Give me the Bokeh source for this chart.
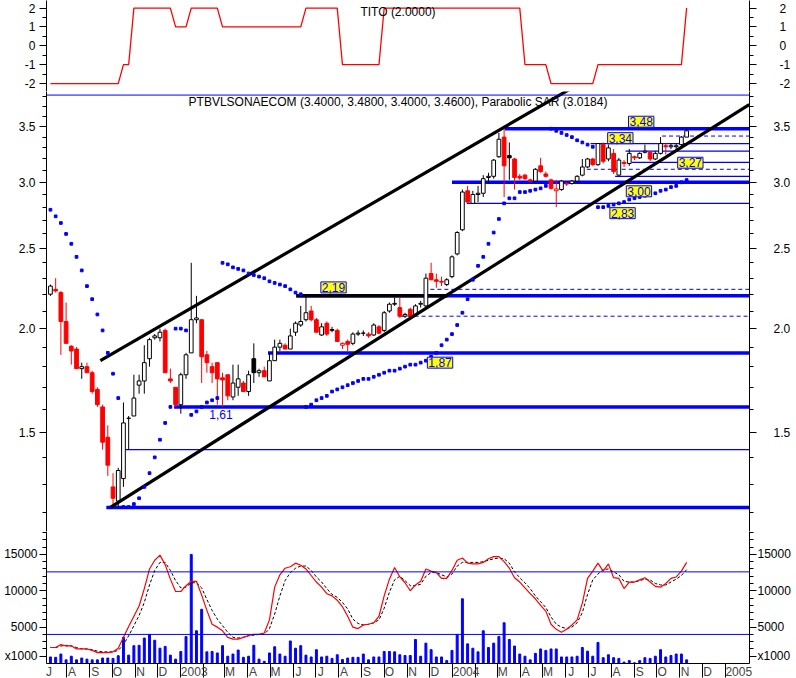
import numpy as np
import pandas as pd
from bokeh.plotting import figure
from bokeh.layouts import column
from bokeh.models import (Range1d, FixedTicker, LinearAxis, LogAxis, PrintfTickFormatter,
                          Span, Label, ColumnDataSource)
from bokeh.embed import file_html
from bokeh.resources import INLINE

FONT = "Liberation Sans"
BLUE = "#0000ff"
RED = "#ff0000"
YELLOW = "#ffff00"

# ---------------- data (weekly bars) ----------------
first_week = "2002-07-10"

opens = [
    2.20, 2.23, 2.21, 2.04, 1.905, 1.89, 1.79, 1.80, 1.77, 1.69,
    1.61, 1.48, 1.29, 1.24, 1.32, 1.56, 1.57, 1.71, 1.73, 1.84,
    1.95, 1.95, 1.99, 1.74, 1.70, 1.62, 1.76, 1.87, 2.05, 2.05,
    1.86, 1.80, 1.82, 1.745, 1.76, 1.655, 1.70, 1.72, 1.68, 1.84,
    1.77, 1.78, 1.73, 1.83, 1.90, 1.91, 1.89, 1.98, 2.02, 2.05,
    2.10, 2.05, 1.965, 2.03, 1.99, 1.99, 1.91, 1.93, 1.92, 1.97,
    1.975, 1.97, 1.965, 2.01, 1.99, 2.10, 2.14, 2.12, 2.07, 2.11,
    2.08, 2.14, 2.13, 2.33, 2.29, 2.28, 2.26, 2.31, 2.46, 2.63,
    2.93, 2.83, 2.90, 2.91, 3.04, 3.05, 3.22, 3.40, 3.23, 3.20,
    3.05, 3.06, 3.02, 3.01, 3.14, 3.07, 3.02, 2.93, 2.94, 2.99,
    2.99, 3.01, 3.06, 3.13, 3.20, 3.15, 3.33, 3.20, 3.25, 3.06,
    3.17, 3.16, 3.22, 3.21, 3.26, 3.26, 3.20, 3.25, 3.32, 3.31,
    3.31, 3.33, 3.40]

highs = [
    2.26, 2.30, 2.22, 2.15, 1.91, 1.90, 1.82, 1.82, 1.78, 1.70,
    1.62, 1.53, 1.34, 1.36, 1.63, 1.57, 1.76, 1.76, 1.91, 1.95,
    1.97, 2.00, 2.00, 1.79, 1.70, 1.77, 1.87, 2.40, 2.19, 2.05,
    1.88, 1.82, 1.82, 1.77, 1.76, 1.81, 1.81, 1.73, 1.78, 1.92,
    1.79, 1.80, 1.87, 1.94, 1.94, 1.92, 2.00, 2.04, 2.13, 2.19,
    2.13, 2.06, 2.03, 2.04, 2.01, 2.00, 1.925, 1.94, 1.98, 1.99,
    1.99, 1.98, 2.03, 2.02, 2.10, 2.15, 2.18, 2.18, 2.09, 2.12,
    2.14, 2.16, 2.33, 2.40, 2.33, 2.31, 2.30, 2.45, 2.62, 2.94,
    2.97, 2.93, 2.97, 3.06, 3.08, 3.20, 3.44, 3.48, 3.35, 3.21,
    3.07, 3.07, 3.03, 3.12, 3.21, 3.09, 3.03, 3.02, 3.02, 3.00,
    3.02, 3.06, 3.20, 3.21, 3.21, 3.34, 3.35, 3.33, 3.29, 3.21,
    3.19, 3.29, 3.23, 3.26, 3.33, 3.27, 3.27, 3.40, 3.34, 3.34,
    3.34, 3.41, 3.48]

lows = [
    2.19, 2.21, 1.86, 1.92, 1.81, 1.79, 1.74, 1.77, 1.67, 1.61,
    1.43, 1.33, 1.23, 1.22, 1.29, 1.43, 1.57, 1.67, 1.67, 1.80,
    1.94, 1.93, 1.77, 1.72, 1.61, 1.58, 1.74, 1.87, 2.03, 1.72,
    1.77, 1.72, 1.62, 1.61, 1.64, 1.64, 1.66, 1.68, 1.66, 1.72,
    1.75, 1.75, 1.73, 1.83, 1.88, 1.89, 1.89, 1.96, 2.01, 2.04,
    2.04, 1.98, 1.96, 1.96, 1.98, 1.93, 1.89, 1.88, 1.91, 1.96,
    1.96, 1.95, 1.96, 1.97, 1.98, 2.09, 2.13, 2.06, 2.06, 2.06,
    2.07, 2.12, 2.11, 2.29, 2.24, 2.25, 2.25, 2.30, 2.45, 2.62,
    2.83, 2.83, 2.84, 2.88, 2.99, 3.03, 3.21, 2.88, 3.02, 2.94,
    3.02, 3.02, 3.00, 3.00, 3.08, 3.04, 2.94, 2.80, 2.93, 2.97,
    2.98, 3.00, 3.05, 3.12, 3.14, 3.14, 3.16, 3.18, 3.07, 3.05,
    3.13, 3.14, 3.19, 3.20, 3.25, 3.18, 3.19, 3.24, 3.24, 3.29,
    3.29, 3.30, 3.40]

closes = [
    2.25, 2.22, 2.04, 1.92, 1.88, 1.79, 1.80, 1.77, 1.68, 1.62,
    1.46, 1.37, 1.25, 1.35, 1.54, 1.56, 1.65, 1.73, 1.82, 1.94,
    1.96, 1.98, 1.77, 1.73, 1.62, 1.76, 1.86, 2.05, 2.06, 1.85,
    1.82, 1.77, 1.74, 1.735, 1.66, 1.72, 1.74, 1.68, 1.76, 1.77,
    1.78, 1.75, 1.83, 1.90, 1.92, 1.89, 1.96, 2.03, 2.04, 2.09,
    2.05, 1.98, 2.01, 1.97, 1.995, 1.93, 1.92, 1.915, 1.97, 1.975,
    1.975, 1.96, 2.02, 1.975, 2.09, 2.14, 2.145, 2.07, 2.08, 2.07,
    2.13, 2.145, 2.30, 2.29, 2.28, 2.275, 2.29, 2.44, 2.61, 2.92,
    2.84, 2.90, 2.91, 3.03, 3.05, 3.19, 3.38, 3.14, 3.21, 3.04,
    3.035, 3.03, 3.01, 3.11, 3.09, 3.05, 2.95, 2.945, 3.01, 2.985,
    3.01, 3.05, 3.13, 3.20, 3.15, 3.34, 3.18, 3.30, 3.09, 3.19,
    3.16, 3.25, 3.21, 3.25, 3.27, 3.20, 3.25, 3.34, 3.31, 3.32,
    3.32, 3.40, 3.46]

parabolic_sar = [
    2.78, 2.73, 2.68, 2.60, 2.53, 2.44, 2.35, 2.25, 2.17, 2.08,
    1.99, 1.87, 1.765, 1.65, 1.22, 1.22, 1.23, 1.25, 1.29, 1.34,
    1.40, 1.47, 1.54, 1.61, 2.00, 2.00, 1.99, 1.575, 1.59, 1.61,
    1.63, 1.64, 1.65, 2.40, 2.39, 2.37, 2.36, 2.35, 2.33, 2.32,
    2.31, 2.30, 2.28, 2.27, 2.26, 2.25, 2.23, 2.21, 2.20, 1.61,
    1.62, 1.64, 1.65, 1.66, 1.68, 1.69, 1.70, 1.71, 1.72, 1.73,
    1.74, 1.74, 1.75, 1.76, 1.77, 1.78, 1.78, 1.79, 1.80, 1.81,
    1.81, 1.82, 1.83, 1.85, 1.87, 1.91, 1.94, 1.97, 2.02, 2.09,
    2.17, 2.29, 2.38, 2.44, 2.53, 2.61, 2.71, 2.83, 2.87, 2.87,
    2.92, 2.92, 2.93, 2.94, 2.95, 2.97, 3.48, 3.46, 3.44, 3.42,
    3.40, 3.37, 3.35, 3.33, 3.31, 2.80, 2.80, 2.81, 2.82, 2.83,
    2.84, 2.86, 2.87, 2.88, 2.89, 2.90, 2.91, 2.93, 2.94, 2.96,
    2.97, 3.00, 3.0184]

tito = [
    -2, -2, -2, -2, -2, -2, -2, -2, -2, -2,
    -2, -2, -2, -2, -1, -1, 2, 2, 2, 2,
    2, 2, 2, 2, 1, 1, 1, 2, 2, 2,
    2, 2, 2, 1, 1, 1, 1, 1, 1, 1,
    1, 1, 1, 1, 1, 1, 1, 1, 1, 2,
    2, 2, 2, 2, 2, 2, -1, -1, -1, -1,
    -1, -1, -1, -1, 2, 2, 2, 2, 2, 2,
    2, 2, 2, 2, 2, 2, 2, 2, 2, 2,
    2, 2, 2, 2, 2, 2, 2, 2, 2, 2,
    2, -1, -1, -1, -1, -1, -2, -2, -2, -2,
    -2, -2, -2, -2, -2, -1, -1, -1, -1, -1,
    -1, -1, -1, -1, -1, -1, -1, -1, -1, -1,
    -1, -1, 2]

volume = [  # x1000
    900, 850, 1300, 500, 1000, 500, 750, 600, 500, 500,
    750, 750, 700, 1070, 3600, 1150, 2450, 2500, 3500, 4000,
    3200, 2100, 2350, 1150, 600, 1650, 3700, 15000, 4500, 7450,
    1600, 1650, 1450, 2450, 1000, 1300, 1850, 850, 1000, 2500,
    600, 300, 1450, 2300, 1300, 1000, 3100, 2100, 2450, 1150,
    900, 1900, 900, 1000, 700, 1200, 550, 750, 850, 850,
    1300, 500, 900, 900, 1650, 1650, 1600, 1200, 1100, 1100,
    3300, 1000, 2800, 1900, 900, 900, 400, 1800, 4000, 8900,
    2700, 2100, 1600, 4500, 2200, 2800, 3700, 5600, 3300, 2400,
    1300, 1000, 500, 1400, 2000, 1800, 2000, 2000, 900, 900,
    900, 1000, 2200, 1700, 1000, 2900, 800, 1200, 800, 700,
    200, 400, 100, 400, 800, 700, 1000, 1900, 900, 1100,
    1300, 1300, 500]

volume_osc = [
    2200, 2200, 2600, 2400, 2450, 2000, 2000, 2000, 1800, 1500,
    1500, 1500, 1600, 2100, 3600, 5100, 6500, 7900, 10300, 13000,
    14200, 14900, 13600, 11600, 9900, 9900, 10700, 11300, 11300, 9400,
    7300, 5400, 5000, 4500, 3600, 3350, 3350, 3600, 3850, 4000,
    4000, 4200, 6000, 10500, 12200, 13100, 13300, 13800, 13500, 13000,
    12100, 11200, 10500, 9600, 9300, 8700, 7800, 6500, 5000, 4800,
    5300, 5400, 5600, 6500, 9300, 11600, 13200, 11900, 11100, 10000,
    10800, 11300, 13000, 12700, 12500, 11700, 11700, 12800, 14200, 14500,
    13800, 13700, 13700, 13900, 14400, 14700, 14700, 14000, 13100, 11800,
    11200, 10400, 9600, 8900, 8000, 7200, 5400, 4700, 4300, 4700,
    5300, 6000, 8300, 11700, 12700, 13800, 12700, 13700, 11800, 11700,
    10300, 11200, 11200, 11500, 11800, 11200, 10600, 10500, 11000, 11700,
    11900, 12700, 13900]

volume_osc_signal = [
    2200, 2200, 2400, 2500, 2400, 2200, 2000, 2000, 1900, 1700,
    1600, 1600, 1600, 1800, 2600, 3800, 5200, 6600, 8400, 10800,
    12800, 13900, 13900, 12800, 11400, 10400, 10500, 11100, 11100, 10400,
    8800, 7300, 6100, 5200, 4300, 3600, 3500, 3600, 3800, 3900,
    4000, 4000, 4800, 6800, 9300, 11400, 12500, 13100, 13400, 13400,
    12800, 11900, 11200, 10300, 9500, 9100, 8400, 7500, 6100, 5500,
    5300, 5400, 5600, 6000, 7600, 9800, 11500, 12000, 11400, 10700,
    10700, 10900, 12000, 12500, 12500, 12200, 11900, 12300, 13400, 13900,
    13900, 13900, 13900, 14000, 14200, 14400, 14500, 14400, 13800, 12600,
    11800, 11100, 10300, 9300, 8500, 7700, 6400, 5400, 5000, 4800,
    5000, 5600, 7000, 9500, 11500, 12300, 12900, 13000, 12600, 12200,
    11300, 11200, 11200, 11400, 11600, 11500, 11000, 10800, 10800, 11200,
    11600, 12100, 12900]

# horizontal price levels: (price, first date, style)
level_price = [3.48, 3.41, 3.34, 3.27, 3.17, 3.11, 3.05, 3.00, 2.83, 2.23, 2.19, 2.07, 1.87, 1.61, 1.43, 1.218]
level_from = ["2004-03-11", "2004-10-08", "2004-07-04", "2004-08-20", "2004-08-28", "2004-06-29",
              "2004-08-06", "2003-12-31", "2004-01-20", "2003-12-02", "2003-06-05", "2003-10-23",
              "2003-04-28", "2002-12-23", "2002-10-15", "2002-09-23"]
level_style = ["thick", "dash", "thin", "thin", "thin", "dash", "thin", "thick", "thin", "dash",
               "thick", "dash", "thick", "thick", "thin", "thick"]
top_level = 3.82
resistance_2_19 = ("2003-06-05", "2003-12-25", 2.19)

# trend channel
trend_dates = [["2002-09-15", "2004-08-13"], ["2002-09-29", "2005-02-02"]]
trend_prices = [[1.83, 4.21], [1.22, 3.72]]

# value tags
tag_text = ["3,48", "3,34", "3,27", "3,00", "2,83", "2,19", "1,87", "1,61"]
tag_date = ["2004-09-10", "2004-08-13", "2004-11-15", "2004-09-07", "2004-08-16", "2003-07-25",
            "2003-12-15", "2003-02-24"]
tag_price = [3.548, 3.39, 3.167, 2.926, 2.754, 2.242, 1.82, 1.576]
tag_boxed = [True, True, True, True, True, True, True, False]

osc_levels = [12600, 4000]

price_ticks = [1.5, 2.0, 2.5, 3.0, 3.5]
price_minor = [1.2, 1.3, 1.4, 1.6, 1.7, 1.8, 1.9, 2.1, 2.2, 2.3, 2.4, 2.6, 2.7, 2.8, 2.9,
               3.1, 3.2, 3.3, 3.4, 3.6, 3.7, 3.8]
tito_ticks = [-2, -1, 0, 1, 2]
tito_minor = [-1.5, -0.5, 0.5, 1.5]
vol_ticks = [1000, 5000, 10000, 15000]
vol_tick_labels = ["x1000", "5000", "10000", "15000"]
vol_minor = [2000, 3000, 4000, 6000, 7000, 8000, 9000, 11000, 12000, 13000, 14000,
             16000, 17000, 18000]
month_labels = ["J", "A", "S", "O", "N", "D",
                "2003", "", "M", "A", "M", "J", "J", "A", "S", "O", "N", "D",
                "2004", "", "M", "A", "M", "J", "J", "A", "S", "O", "N", "D",
                "2005"]

# ---------------- helpers ----------------
REF = pd.Timestamp("2003-01-01")


def day(s):
    return float((pd.Timestamp(s) - REF).days)


dates = pd.date_range(first_week, periods=len(closes), freq="7D")
xs = np.array([(d - REF).days for d in dates], dtype=float)
month_starts = pd.date_range("2002-07-01", periods=len(month_labels), freq="MS")
month_pos = [float((m - REF).days) for m in month_starts]

X0, X1 = -180.3, 763.4
xr = Range1d(X0, X1)

FW = 703
LB, RB = 46, 47


def base_fig(h, yr, **kw):
    p = figure(frame_width=FW, frame_height=h, x_range=xr, y_range=yr,
               output_backend="svg", toolbar_location=None,
               min_border_left=LB, min_border_right=RB,
               min_border_top=0, min_border_bottom=0,
               x_axis_location=None, y_axis_location=None, **kw)
    p.grid.visible = False
    p.outline_line_color = None
    p.background_fill_color = "white"
    p.border_fill_color = "white"
    return p


def add_yaxes(p, cls, ticks, minor, fmt, left_standoff, right_standoff, overrides=None):
    for side, standoff in (("left", left_standoff), ("right", right_standoff)):
        ax = cls(ticker=FixedTicker(ticks=ticks, minor_ticks=minor), formatter=fmt)
        ax.major_tick_out = 7
        ax.major_tick_in = 0
        ax.minor_tick_out = 4
        ax.minor_tick_in = 0
        ax.major_label_standoff = standoff
        ax.major_label_text_font = FONT
        ax.major_label_text_font_size = "12px"
        ax.major_label_text_color = "black"
        ax.axis_line_color = "black"
        if overrides:
            ax.major_label_overrides = overrides
        p.add_layout(ax, side)


# ---------------- top panel: TITO ----------------
p1 = base_fig(91, Range1d(-2.42, 2.40))
add_yaxes(p1, LinearAxis, tito_ticks, tito_minor, PrintfTickFormatter(format="%d"), 4, 23)
sep = LinearAxis(ticker=FixedTicker(ticks=[]), major_tick_out=0, minor_tick_out=0,
                 major_tick_in=0, minor_tick_in=0, major_label_standoff=0,
                 axis_line_color="black")
p1.add_layout(sep, "below")
p1.line(xs, tito, color=RED, line_width=1.3)
p1.add_layout(Label(x=FW / 2, y=87, x_units="screen", y_units="screen", text="TITO (2.0000)",
                    text_align="center", text_baseline="top", text_font=FONT,
                    text_font_size="12px", text_color="black"))

# ---------------- main panel: candles ----------------
p2 = base_fig(440, Range1d(1.140, 3.858), y_axis_type="log")
add_yaxes(p2, LogAxis, price_ticks, price_minor, PrintfTickFormatter(format="%.1f"), 4, 17)

p2.add_layout(Span(location=top_level, dimension="width", line_color=BLUE, line_width=1))
for pr, d0, st in zip(level_price, level_from, level_style):
    if st == "thick":
        p2.line([day(d0), X1], [pr, pr], color=BLUE, line_width=3.5)
    elif st == "thin":
        p2.line([day(d0), X1], [pr, pr], color=BLUE, line_width=1.3)
    else:
        p2.line([day(d0), X1], [pr, pr], color=BLUE, line_width=1, line_dash="4 3")
r0, r1, rp = resistance_2_19
p2.line([day(r0), day(r1)], [rp, rp], color="black", line_width=3.5)

prev_close = [closes[0]] + closes[:-1]
edge = [RED if c < pc else "black" for c, pc in zip(closes, prev_close)]
fill = ["white" if c >= o else (RED if c < pc else "black")
        for o, c, pc in zip(opens, closes, prev_close)]
src = ColumnDataSource(dict(x=xs, h=highs, l=lows,
                            top=[max(o, c) for o, c in zip(opens, closes)],
                            bottom=[min(o, c) for o, c in zip(opens, closes)],
                            edge=edge, fill=fill))
p2.segment(x0="x", y0="l", x1="x", y1="h", line_color="edge", line_width=1, source=src)
p2.vbar(x="x", width=5.0, top="top", bottom="bottom", fill_color="fill",
        line_color="edge", line_width=1, source=src)

p2.multi_line([[day(a), day(b)] for a, b in trend_dates], trend_prices,
              color="black", line_width=3.2)
p2.scatter(xs, parabolic_sar, marker="square", size=2.7, color=BLUE)

for t, d, pr, boxed in zip(tag_text, tag_date, tag_price, tag_boxed):
    kw = dict(background_fill_color=YELLOW, border_line_color=BLUE, padding=1) if boxed else {}
    p2.add_layout(Label(x=day(d), y=pr, text=t, text_align="center", text_baseline="middle",
                        text_font=FONT, text_font_size="12px", text_color=BLUE, **kw))

p2.add_layout(Label(x=FW / 2, y=437, x_units="screen", y_units="screen",
                    text="PTBVLSONAECOM (3.4000, 3.4800, 3.4000, 3.4600), Parabolic SAR (3.0184)",
                    text_align="center", text_baseline="top", text_font=FONT,
                    text_font_size="12px", text_color="black"))

# ---------------- bottom panel: volume ----------------
p3 = base_fig(132, Range1d(0, 18150))
add_yaxes(p3, LinearAxis, vol_ticks, vol_minor, PrintfTickFormatter(format="%d"), 2, 1,
          overrides={float(t): s for t, s in zip(vol_ticks, vol_tick_labels)})
p3.vbar(x=xs, width=2.6, top=volume, bottom=0, color=BLUE)
p3.line(xs, volume_osc_signal, color="black", line_width=1, line_dash="3 2")
p3.line(xs, volume_osc, color=RED, line_width=1.2)
for lv in osc_levels:
    p3.add_layout(Span(location=lv, dimension="width", line_color=BLUE, line_width=1))

label_pos = []
overrides = {}
for m, lab in zip(month_pos, month_labels):
    if lab:
        pos = m + (18.0 if len(lab) == 4 else 7.0)
        label_pos.append(pos)
        overrides[pos] = lab
xa = LinearAxis(ticker=FixedTicker(ticks=label_pos, minor_ticks=month_pos))
xa.major_label_overrides = overrides
xa.major_tick_out = 0
xa.major_tick_in = 0
xa.major_tick_line_color = None
xa.minor_tick_out = 14
xa.minor_tick_in = 0
xa.minor_tick_line_color = "black"
xa.major_label_standoff = -13
xa.major_label_text_font = FONT
xa.major_label_text_font_size = "12px"
xa.axis_line_color = "black"
p3.add_layout(xa, "below")

layout = column(p1, p2, p3, spacing=0)
open("out.html", "w").write(file_html(layout, INLINE))
